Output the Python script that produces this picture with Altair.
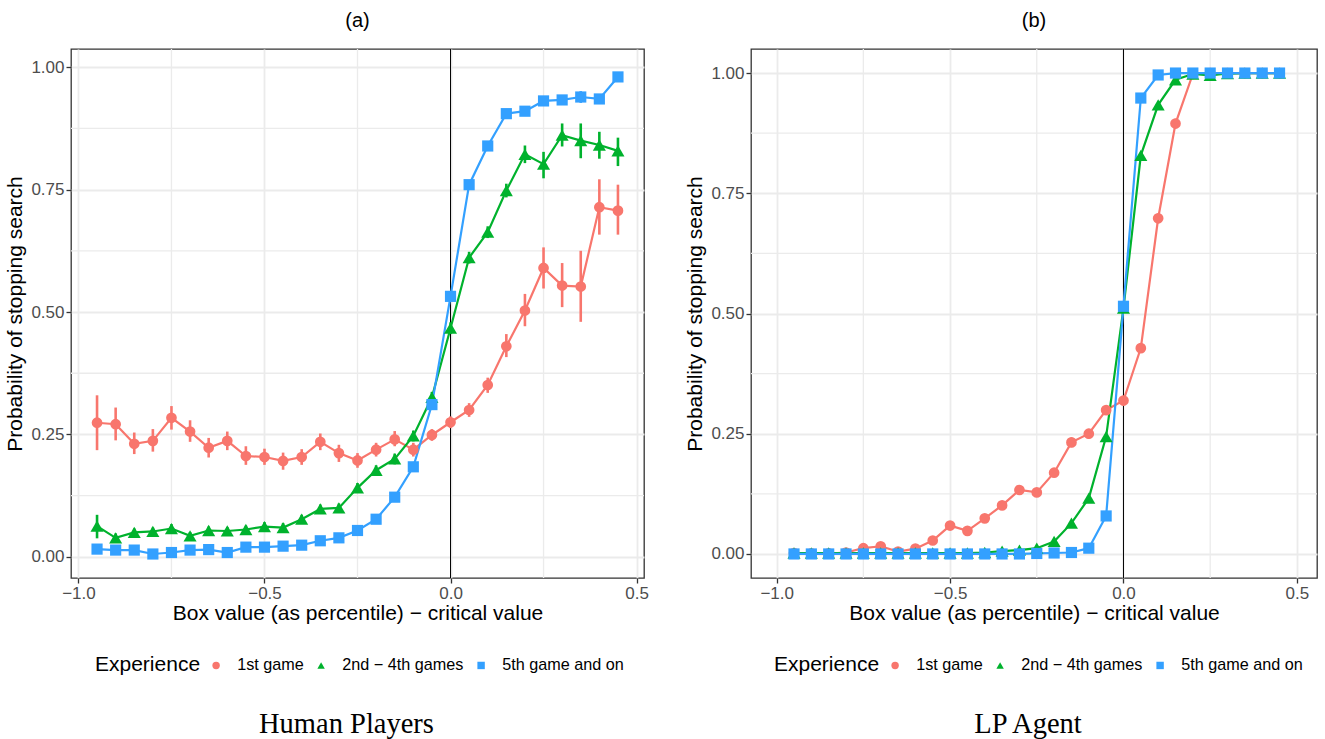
import altair as alt
import pandas as pd

# ---------------- data ----------------
x_pts = [-0.95, -0.90, -0.85, -0.80, -0.75, -0.70, -0.65, -0.60, -0.55, -0.50,
         -0.45, -0.40, -0.35, -0.30, -0.25, -0.20, -0.15, -0.10, -0.05, 0.00,
         0.05, 0.10, 0.15, 0.20, 0.25, 0.30, 0.35, 0.40, 0.45]

groups = ["1st game", "2nd \u2212 4th games", "5th game and on"]
colors = ["#F8766D", "#00B22D", "#33A0FF"]
shapes = ["circle", "triangle-up", "square"]
sizes = [115, 170, 125]

x_ticks = [-1.0, -0.5, 0.0, 0.5]
y_ticks = [0.0, 0.25, 0.5, 0.75, 1.0]
minor_x = [-0.75, -0.25, 0.25]
minor_y = [0.125, 0.375, 0.625, 0.875]

# Panel (a): human players
a_first = [0.274, 0.271, 0.231, 0.237, 0.284, 0.256, 0.223, 0.237, 0.206, 0.204,
           0.196, 0.204, 0.235, 0.212, 0.197, 0.219, 0.240, 0.219, 0.249, 0.275,
           0.300, 0.351, 0.430, 0.503, 0.590, 0.554, 0.552, 0.714, 0.707]
a_first_lo = [0.218, 0.238, 0.210, 0.215, 0.260, 0.235, 0.203, 0.218, 0.188, 0.188,
              0.178, 0.188, 0.218, 0.194, 0.182, 0.205, 0.226, 0.205, 0.237, 0.263,
              0.286, 0.335, 0.408, 0.471, 0.548, 0.510, 0.480, 0.658, 0.658]
a_first_hi = [0.330, 0.305, 0.254, 0.261, 0.308, 0.279, 0.243, 0.256, 0.226, 0.221,
              0.213, 0.220, 0.252, 0.229, 0.212, 0.233, 0.257, 0.233, 0.261, 0.287,
              0.314, 0.366, 0.455, 0.537, 0.632, 0.600, 0.625, 0.771, 0.760]

a_mid = [0.063, 0.039, 0.050, 0.052, 0.058, 0.043, 0.054, 0.053, 0.056, 0.062,
         0.060, 0.077, 0.098, 0.100, 0.141, 0.177, 0.200, 0.247, 0.326, 0.467,
         0.611, 0.663, 0.748, 0.822, 0.802, 0.861, 0.850, 0.841, 0.829]
a_mid_lo = [0.038, 0.030, 0.042, 0.044, 0.049, 0.035, 0.046, 0.045, 0.048, 0.053,
            0.051, 0.068, 0.089, 0.091, 0.131, 0.167, 0.189, 0.236, 0.315, 0.455,
            0.599, 0.651, 0.734, 0.804, 0.773, 0.838, 0.814, 0.813, 0.798]
a_mid_hi = [0.086, 0.048, 0.058, 0.060, 0.067, 0.051, 0.062, 0.061, 0.064, 0.071,
            0.069, 0.086, 0.107, 0.109, 0.151, 0.187, 0.211, 0.258, 0.337, 0.479,
            0.623, 0.675, 0.762, 0.840, 0.827, 0.885, 0.885, 0.868, 0.856]

a_late = [0.016, 0.014, 0.014, 0.006, 0.009, 0.014, 0.015, 0.009, 0.020, 0.020,
          0.022, 0.024, 0.033, 0.039, 0.054, 0.077, 0.122, 0.184, 0.311, 0.532,
          0.760, 0.839, 0.905, 0.910, 0.931, 0.933, 0.939, 0.935, 0.980]
a_late_lo = [0.011, 0.009, 0.009, 0.002, 0.005, 0.009, 0.010, 0.005, 0.015, 0.015,
             0.017, 0.019, 0.028, 0.034, 0.048, 0.071, 0.115, 0.177, 0.303, 0.524,
             0.752, 0.832, 0.899, 0.904, 0.925, 0.927, 0.927, 0.929, 0.975]
a_late_hi = [0.021, 0.019, 0.019, 0.010, 0.013, 0.019, 0.020, 0.013, 0.025, 0.025,
             0.027, 0.029, 0.038, 0.044, 0.060, 0.083, 0.129, 0.191, 0.319, 0.540,
             0.768, 0.846, 0.911, 0.916, 0.937, 0.939, 0.951, 0.941, 0.985]

# Panel (b): LP agent
b_first = [0.002, 0.001, 0.001, 0.003, 0.012, 0.016, 0.005, 0.011, 0.028, 0.059,
           0.048, 0.074, 0.101, 0.133, 0.128, 0.169, 0.232, 0.250, 0.299, 0.319,
           0.428, 0.698, 0.895, 0.998, 1.000, 1.000, 1.000, 1.000, 1.000]
b_first_lo = [0.000, 0.000, 0.000, 0.001, 0.008, 0.011, 0.002, 0.007, 0.022, 0.052,
              0.041, 0.067, 0.093, 0.124, 0.119, 0.160, 0.222, 0.240, 0.289, 0.309,
              0.418, 0.688, 0.885, 0.996, 1.000, 1.000, 1.000, 1.000, 1.000]
b_first_hi = [0.004, 0.003, 0.003, 0.005, 0.016, 0.021, 0.008, 0.015, 0.034, 0.066,
              0.055, 0.081, 0.109, 0.142, 0.137, 0.178, 0.242, 0.260, 0.309, 0.329,
              0.438, 0.708, 0.905, 1.000, 1.000, 1.000, 1.000, 1.000, 1.000]

b_mid = [0.002, 0.002, 0.002, 0.002, 0.002, 0.002, 0.002, 0.002, 0.002, 0.002,
         0.002, 0.003, 0.006, 0.008, 0.012, 0.026, 0.064, 0.116, 0.244, 0.511,
         0.829, 0.934, 0.986, 0.998, 0.995, 0.999, 1.000, 1.000, 1.000]
b_late = [0.000, 0.000, 0.000, 0.000, 0.000, 0.000, 0.000, 0.000, 0.000, 0.000,
          0.000, 0.000, 0.000, 0.000, 0.001, 0.002, 0.003, 0.012, 0.079, 0.515,
          0.948, 0.996, 1.000, 1.000, 1.000, 1.000, 1.000, 1.000, 1.000]

FONT = "Liberation Sans"


def panel_df(series):
    rows = []
    for g, ys, lo, hi in series:
        for x, y, l, h in zip(x_pts, ys, lo, hi):
            rows.append({"x": x, "y": y, "lo": l, "hi": h, "Experience": g})
    return pd.DataFrame(rows)


df_a = panel_df([(groups[0], a_first, a_first_lo, a_first_hi),
                 (groups[1], a_mid, a_mid_lo, a_mid_hi),
                 (groups[2], a_late, a_late_lo, a_late_hi)])
df_b = panel_df([(groups[0], b_first, b_first_lo, b_first_hi),
                 (groups[1], b_mid, b_mid, b_mid),
                 (groups[2], b_late, b_late, b_late)])

cscale = alt.Scale(domain=groups, range=colors)
sscale = alt.Scale(domain=groups, range=shapes)


def panel(df, xdom, ydom, w, h, tag, caption, cap_dx, legend_x, legend_y):
    xs = alt.Scale(domain=xdom, nice=False, zero=False)
    ys = alt.Scale(domain=ydom, nice=False, zero=False)
    xaxis = alt.Axis(values=x_ticks, format=".1f",
                     title="Box value (as percentile) \u2212 critical value",
                     titlePadding=1)
    yaxis = alt.Axis(values=y_ticks, format=".2f",
                     title="Probability of stopping search", titlePadding=5)
    X = alt.X("x:Q", scale=xs, axis=xaxis)
    Y = alt.Y("y:Q", scale=ys, axis=yaxis)

    leg = alt.Legend(orient="none", legendX=legend_x, legendY=legend_y,
                     direction="horizontal", titleOrient="left",
                     title="Experience", titleFontSize=21, titleFont=FONT,
                     titleFontWeight="normal", titleColor="black",
                     titleBaseline="middle", titlePadding=7,
                     labelFontSize=16.2, labelFont=FONT, labelColor="black",
                     labelOffset=13, columnPadding=9, symbolSize=55,
                     symbolStrokeWidth=0)
    C = alt.Color("Experience:N", scale=cscale, legend=leg)
    S = alt.Shape("Experience:N", scale=sscale, legend=leg)

    minor_v = alt.Chart(pd.DataFrame({"x": minor_x})).mark_rule(
        color="#EBEBEB", strokeWidth=1.3).encode(x=X)
    minor_h = alt.Chart(pd.DataFrame({"y": minor_y})).mark_rule(
        color="#EBEBEB", strokeWidth=1.3).encode(y=Y)
    zero = alt.Chart(pd.DataFrame({"x": [0.0]})).mark_rule(
        color="black", strokeWidth=1).encode(x=X)
    err = alt.Chart(df).mark_rule(strokeWidth=2.6).encode(
        x=X, y=alt.Y("lo:Q", scale=ys, axis=yaxis), y2="hi:Q", color=C)
    line = alt.Chart(df).mark_line(strokeWidth=2.2).encode(
        x=X, y=Y, color=C)
    pts = [
        alt.Chart(df).transform_filter(alt.datum.Experience == g).mark_point(
            filled=True, opacity=1, size=s).encode(x=X, y=Y, color=C, shape=S)
        for g, s in zip(groups, sizes)
    ]
    cap = alt.Chart(pd.DataFrame({"t": [caption]})).mark_text(
        font="Liberation Serif", fontSize=28.5, color="black",
        align="center", baseline="alphabetic").encode(
        text="t:N", x=alt.value(w / 2 + cap_dx), y=alt.value(684))

    return alt.layer(minor_v, minor_h, zero, err, line, *pts, cap).properties(
        width=w, height=h,
        title=alt.TitleParams(tag, fontSize=20, font=FONT, fontWeight="normal",
                              color="black", anchor="middle", offset=17))


left = panel(df_a, [-1.02, 0.52], [-0.043, 1.037], 573, 529, "(a)",
             "Human Players", -11, 24, 608)
right = panel(df_b, [-1.074, 0.558], [-0.05, 1.05], 566, 529, "(b)",
              "LP Agent", -6, 23, 608)

chart = alt.hconcat(left, right, spacing=34).resolve_legend(
    color="independent", shape="independent"
).configure_view(
    stroke="#333333", strokeWidth=1.3
).configure_axis(
    domain=False, tickColor="#333333", tickWidth=1.3, tickSize=5,
    labelColor="#4D4D4D", labelFont=FONT, labelFontSize=17, labelPadding=2,
    titleFont=FONT, titleFontSize=21, titleFontWeight="normal",
    titleColor="black", gridColor="#EBEBEB", gridWidth=1.8
).properties(
    padding={"left": 4, "top": 10, "right": 0, "bottom": 0},
    background="white"
)

chart.save("out.html", embed_options={"renderer": "svg", "actions": False})
